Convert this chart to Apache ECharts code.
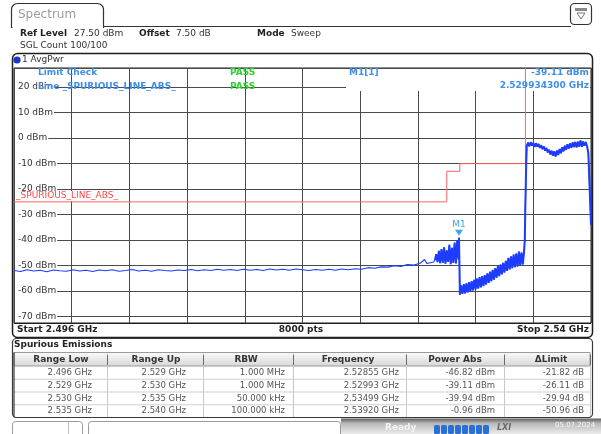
<!DOCTYPE html>
<html><head><meta charset="utf-8">
<script src="https://cdn.jsdelivr.net/npm/echarts@6/dist/echarts.min.js"></script>
<style>html,body{margin:0;padding:0;background:#fff}#c{width:601px;height:434px}</style>
</head><body><div id="c"></div>
<script>
// ---------------- data ----------------
const sweepStartGHz = 2.496;
const sweepStopGHz = 2.54;
const sweepPoints = 8000;
const refLevelDbm = 27.5;
const bottomLevelDbm = -72.5;

// trace: [frequency GHz, level dBm]
const baselineSegment = [
  [2.4960,-51.9],[2.4965,-52.3],[2.4970,-51.6],[2.4975,-52.1],[2.4980,-51.8],[2.4985,-52.4],
  [2.4990,-51.7],[2.4995,-52.0],[2.5000,-52.2],[2.5005,-51.6],[2.5010,-52.1],[2.5015,-51.8],
  [2.5020,-52.3],[2.5025,-51.7],[2.5030,-52.0],[2.5035,-51.6],[2.5040,-52.2],[2.5045,-51.9],
  [2.5050,-51.5],[2.5055,-52.1],[2.5060,-51.8],[2.5065,-52.2],[2.5070,-51.6],[2.5075,-51.9],
  [2.5080,-52.1],[2.5085,-51.7],[2.5090,-51.9],[2.5095,-51.5],[2.5100,-52.0],[2.5105,-51.6],
  [2.5110,-51.9],[2.5115,-51.4],[2.5120,-51.8],[2.5125,-51.5],[2.5130,-51.9],[2.5135,-51.4],
  [2.5140,-51.8],[2.5145,-51.5],[2.5150,-51.9],[2.5155,-51.3],[2.5160,-51.7],[2.5165,-51.4],
  [2.5170,-51.8],[2.5175,-51.3],[2.5180,-51.6],[2.5185,-51.9],[2.5190,-51.5],[2.5195,-51.8],
  [2.5200,-51.4],[2.5205,-51.8],[2.5210,-51.3],[2.5215,-51.6],[2.5220,-51.2],[2.5225,-51.4],
  [2.5230,-50.8],[2.5235,-51.0],[2.5240,-50.5],[2.5245,-50.6],[2.5250,-50.0],[2.5255,-50.3],
  [2.5260,-49.6],[2.5265,-49.8],[2.5270,-49.0],[2.5273,-47.6],[2.5275,-49.2],[2.5280,-48.6]
];
const burstSegment = [
  [2.5281,-47.8],[2.5282,-45.5],[2.5283,-48.6],[2.5284,-44.2],[2.5285,-49.0],[2.5286,-43.5],
  [2.5287,-48.8],[2.5288,-42.8],[2.5289,-49.2],[2.5290,-44.0],[2.5291,-48.5],[2.5292,-41.8],
  [2.5293,-49.4],[2.5294,-43.0],[2.5295,-48.9],[2.5296,-41.0],[2.5297,-49.1],[2.5298,-40.3],
  [2.5299,-47.5],[2.5299343,-39.11],[2.52996,-47.0]
];
const bandSegment = [
  [2.5300,-61.4],[2.5301,-57.8],[2.5302,-61.1],[2.5303,-57.3],[2.5304,-60.9],[2.5305,-57.0],
  [2.5306,-60.5],[2.5307,-56.5],[2.5308,-60.1],[2.5309,-56.1],[2.5310,-59.7],[2.5311,-55.6],
  [2.5312,-59.3],[2.5313,-55.1],[2.5314,-58.9],[2.5315,-54.5],[2.5316,-58.5],[2.5317,-54.1],
  [2.5318,-58.0],[2.5319,-53.7],[2.5320,-57.4],[2.5321,-53.0],[2.5322,-56.8],[2.5323,-52.4],
  [2.5324,-56.1],[2.5325,-51.7],[2.5326,-55.5],[2.5327,-51.0],[2.5328,-54.7],[2.5329,-50.2],
  [2.5330,-54.1],[2.5331,-49.6],[2.5332,-53.4],[2.5333,-48.9],[2.5334,-52.7],[2.5335,-48.1],
  [2.5336,-52.1],[2.5337,-47.0],[2.5338,-51.5],[2.5339,-46.4],[2.5340,-51.0],[2.5341,-45.7],
  [2.5342,-50.6],[2.5343,-45.3],[2.5344,-50.3],[2.5345,-44.5],[2.5346,-49.9],[2.5347,-44.9],
  [2.5348,-49.5],[2.5349,-44.1],[2.53495,-40.0],[2.5350,-25.0],[2.53505,-12.0]
];
const plateauSegment = [
  [2.5351,-3.0],[2.5352,-1.8],[2.5353,-3.2],[2.5354,-1.6],[2.5355,-2.9],[2.5356,-1.9],
  [2.5357,-3.4],[2.5358,-2.0],[2.5359,-3.3],[2.5360,-2.3],[2.5361,-3.8],[2.5362,-2.8],
  [2.5363,-4.3],[2.5364,-3.3],[2.5365,-4.9],[2.5366,-3.9],[2.5367,-5.6],[2.5368,-4.6],
  [2.5369,-6.4],[2.5370,-5.0],[2.5371,-6.9],[2.5372,-5.2],[2.5373,-7.2],[2.5374,-4.9],
  [2.5375,-6.6],[2.5376,-4.3],[2.5377,-5.9],[2.5378,-3.6],[2.5379,-5.2],[2.5380,-3.0],
  [2.5381,-4.6],[2.5382,-2.4],[2.5383,-4.1],[2.5384,-2.1],[2.5385,-3.8],[2.5386,-1.7],
  [2.5387,-3.5],[2.5388,-1.5],[2.5389,-3.6],[2.5390,-1.4],[2.5391,-3.3],[2.5392,-0.96],
  [2.5393,-3.4],[2.5394,-1.3],[2.5395,-3.0],[2.5396,-1.5],[2.5397,-3.2],[2.5398,-6.0],
  [2.5399,-20.0],[2.53995,-27.0],[2.5400,-34.0]
];

// marker
const markerName = 'M1';
const markerFreqGHz = 2.5299343;
const markerDbm = -39.11;

// spurious emissions table
const tableHeaders = ['Range Low','Range Up','RBW','Frequency','Power Abs','\u0394Limit'];
const rangeLowGHz = [2.496, 2.529, 2.530, 2.535];
const rangeUpGHz = [2.529, 2.530, 2.535, 2.540];
const rbwText = ['1.000 MHz','1.000 MHz','50.000 kHz','100.000 kHz'];
const peakFreqGHz = [2.52855, 2.52993, 2.53499, 2.53920];
const powerAbsDbm = [-46.82, -39.11, -39.94, -0.96];
const deltaLimitDb = [-21.82, -26.11, -29.94, -50.96];

// ---------------- build ----------------
const noisyData = burstSegment.concat(bandSegment, plateauSegment);
const traceData = baselineSegment.concat(noisyData);
const limitData = [];
for (let i = 0; i < rangeLowGHz.length; i++) {
  const lim = Math.round((powerAbsDbm[i] - deltaLimitDb[i]) * 100) / 100;
  limitData.push([rangeLowGHz[i], lim], [rangeUpGHz[i], lim]);
}

const FONT = '"DejaVu Sans", Verdana, sans-serif';
function T(x, y, text, o) {
  o = o || {};
  const st = {
    text: text, fill: o.color || '#222',
    font: (o.italic ? 'italic ' : '') + (o.bold ? 'bold ' : '') + (o.size || 9) + 'px ' + FONT,
    align: o.align || 'left', textAlign: o.align || 'left',
    verticalAlign: 'middle', textVerticalAlign: 'middle'
  };
  if (o.bg) { st.backgroundColor = o.bg; st.padding = o.pad || [0, 1]; }
  return { type: 'text', x: x, y: y, z: o.z || 20, silent: true, style: st };
}
function R(x, y, w, h, o) {
  o = o || {};
  return { type: 'rect', z: o.z || 15, silent: true,
    shape: { x: x, y: y, width: w, height: h, r: o.r || 0 },
    style: { fill: o.fill || 'none', stroke: o.stroke || null, lineWidth: o.lw || 1 } };
}
function L(x1, y1, x2, y2, color, lw, z) {
  return { type: 'line', z: z || 16, silent: true,
    shape: { x1: x1, y1: y1, x2: x2, y2: y2 },
    style: { stroke: color, lineWidth: lw || 1 } };
}

const g = [];
// top tab
g.push(R(11.5, 3.5, 92, 24, { r: [6, 6, 0, 0], fill: '#fff', stroke: '#333', lw: 1.2, z: 10 }));
g.push(R(12.5, 25, 90.5, 4, { fill: '#fff', z: 11 }));
g.push(L(103.5, 26.5, 571, 26.5, '#333', 1.2, 12));
g.push(T(18, 15, 'Spectrum', { color: '#9c9c9c', size: 12 }));
// icon box
g.push(R(570.5, 3.5, 21, 21, { r: 4, fill: '#fff', stroke: '#333', lw: 1.2 }));
g.push(R(575, 8, 12, 3, { fill: '#8a8a8a' }));
g.push({ type: 'polygon', z: 16, silent: true, shape: { points: [[577, 13], [585, 13], [581, 19]] }, style: { fill: '#fff', stroke: '#777', lineWidth: 1 } });
// info lines
g.push(T(20, 34, 'Ref Level', { bold: true }));
g.push(T(74, 34, refLevelDbm.toFixed(2) + ' dBm', { color: '#333' }));
g.push(T(139, 34, 'Offset', { bold: true }));
g.push(T(176, 34, '7.50 dB', { color: '#333' }));
g.push(T(257, 34, 'Mode', { bold: true }));
g.push(T(291, 34, 'Sweep', { color: '#333' }));
g.push(T(20, 46, 'SGL Count 100/100', { color: '#333' }));

// diagram container
g.push(R(12.5, 53.5, 580, 284, { r: 5, stroke: '#1e1e1e', lw: 1.5, z: 30 }));
g.push({ type: 'circle', z: 20, silent: true, shape: { cx: 17, cy: 60, r: 3.6 }, style: { fill: '#1a35c8' } });
g.push(T(22, 60, '1 AvgPwr', { color: '#333' }));
// white box behind marker info
g.push(R(346, 69, 244, 22, { fill: '#fff', z: 1 }));
const infoBlue = '#3f8fe9';
g.push(T(38, 73, 'Limit Check', { bold: true, color: infoBlue }));
g.push(T(230, 73, 'PASS', { bold: true, color: '#31cf31' }));
g.push(T(38, 87, 'Line _SPURIOUS_LINE_ABS_', { bold: true, color: infoBlue }));
g.push(T(230, 87, 'PASS', { bold: true, color: '#31cf31' }));
g.push(T(349, 73, markerName + '[1]', { bold: true, color: infoBlue }));
g.push(T(589, 73, markerDbm.toFixed(2) + ' dBm', { bold: true, color: infoBlue, align: 'right' }));
g.push(T(589, 86, markerFreqGHz.toFixed(9) + ' GHz', { bold: true, color: infoBlue, align: 'right' }));
// limit line label
g.push(T(15, 196, '_SPURIOUS_LINE_ABS_', { color: '#ff4848', bg: '#fff', pad: [1, 1, 0, 1], z: 25 }));
// bottom of diagram
g.push(L(14, 323.5, 591, 323.5, '#1e1e1e', 1.2, 30));
g.push(T(17, 330, 'Start ' + sweepStartGHz + ' GHz', { bold: true }));
g.push(T(301, 330, sweepPoints + ' pts', { bold: true, align: 'center' }));
g.push(T(589, 330, 'Stop ' + sweepStopGHz + ' GHz', { bold: true, align: 'right' }));

// table
g.push(R(12.5, 338.5, 580, 79, { r: 4, stroke: '#3a3a3a', lw: 1.2, z: 30 }));
g.push(T(14, 345, 'Spurious Emissions', { bold: true }));
const colEdges = [14, 107, 203, 293, 406, 504, 590];
const colCenters = [61, 156, 246, 348, 455, 551];
const colRight = [92, 186, 285, 399, 495, 584];
const headTop = 352.5, headH = 13.5, rowH = 12.75;
g.push({ type: 'rect', z: 14, silent: true, shape: { x: 14, y: headTop, width: 576, height: headH },
  style: { fill: { type: 'linear', x: 0, y: 0, x2: 0, y2: 1, colorStops: [{ offset: 0, color: '#fbfbfb' }, { offset: 1, color: '#d6d6d6' }] }, stroke: '#9a9a9a', lineWidth: 1 } });
for (let i = 1; i < colEdges.length; i++) {
  g.push(L(colEdges[i] + 0.5, headTop + 2, colEdges[i] + 0.5, headTop + headH - 1, '#6a6a6a', 1));
  g.push(L(colEdges[i] + 0.5, headTop + headH, colEdges[i] + 0.5, headTop + headH + 4 * rowH, '#c8c8c8', 1));
}
for (let i = 0; i < tableHeaders.length; i++) {
  g.push(T(colCenters[i], headTop + headH / 2 + 0.5, tableHeaders[i], { bold: true, align: 'center', color: '#333' }));
}
const rows = [];
for (let r = 0; r < rangeLowGHz.length; r++) {
  rows.push([
    rangeLowGHz[r].toFixed(3) + ' GHz',
    rangeUpGHz[r].toFixed(3) + ' GHz',
    rbwText[r],
    peakFreqGHz[r].toFixed(5) + ' GHz',
    powerAbsDbm[r].toFixed(2) + ' dBm',
    deltaLimitDb[r].toFixed(2) + ' dB'
  ]);
}
rows.forEach(function (row, r) {
  const y0 = headTop + headH + r * rowH;
  g.push(L(14, y0 + rowH + 0.5, 590, y0 + rowH + 0.5, '#cfcfcf', 1));
  row.forEach(function (cell, c) {
    g.push(T(colRight[c], y0 + rowH / 2 + 0.5, cell, { align: 'right', color: '#555', size: 8.5 }));
  });
});
g.push(L(14, 352.5, 14, 417, '#3a3a3a', 1.2, 30));

// status bar
g.push(R(12.5, 421.5, 70, 16, { r: [3, 3, 0, 0], fill: '#fff', stroke: '#9a9a9a' }));
g.push(L(68.5, 422, 68.5, 434, '#c0c0c0', 1));
g.push(R(88.5, 421.5, 252, 16, { r: [3, 3, 0, 0], fill: '#fff', stroke: '#9a9a9a' }));
g.push({ type: 'rect', z: 14, silent: true, shape: { x: 341, y: 418.5, width: 260, height: 16 },
  style: { fill: { type: 'linear', x: 0, y: 0, x2: 0, y2: 1, colorStops: [{ offset: 0, color: '#5e5e5e' }, { offset: 0.3, color: '#b8b8b8' }, { offset: 1, color: '#efefef' }] } } });
g.push(T(385, 428, 'Ready', { bold: true, color: '#f4f4f4' }));
for (let i = 0; i < 8; i++) {
  g.push(R(434 + i * 7, 425, 6, 9, { r: 1.5, fill: '#2a6fd6' }));
}
g.push(T(497, 428, 'LXI', { bold: true, italic: true, color: '#6a6a6a', size: 8 }));
g.push(T(555, 425, '05.07.2024', { color: '#f6f6f6', size: 7 }));

const chart = echarts.init(document.getElementById('c'), null, { renderer: 'canvas' });
chart.setOption({
  animation: false,
  backgroundColor: '#fff',
  grid: { left: 14, top: 68, width: 577, height: 255, show: true, borderColor: '#1e1e1e', borderWidth: 1, backgroundColor: 'transparent', outerBoundsMode: 'none' },
  xAxis: {
    type: 'value', min: sweepStartGHz, max: sweepStopGHz, interval: 0.0044,
    axisLabel: { show: false }, axisTick: { show: false }, axisLine: { show: false },
    splitLine: { show: true, lineStyle: { color: '#4a4a4a', width: 1 } }
  },
  yAxis: [{
    type: 'value', position: 'left', min: bottomLevelDbm, max: refLevelDbm, splitNumber: 10,
    axisLabel: { show: false }, axisTick: { show: false }, axisLine: { show: false },
    splitLine: { show: true, lineStyle: { color: '#4a4a4a', width: 1 } }
  }, {
    type: 'value', position: 'left', offset: 0, min: bottomLevelDbm, max: refLevelDbm, splitNumber: 10, z: 5,
    axisTick: { show: false }, axisLine: { show: false }, splitLine: { show: false },
    axisLabel: { inside: true, margin: 1, formatter: '{value} dBm', showMinLabel: false, showMaxLabel: false,
      color: '#333', fontSize: 9, fontFamily: 'DejaVu Sans', backgroundColor: '#fff', padding: [0, 1, 0, 3] }
  }],
  series: [{
    type: 'line', name: 'limit', data: limitData, symbol: 'none', silent: true, z: 3,
    lineStyle: { color: '#ff6262', width: 1 }
  }, {
    type: 'line', name: 'trace', data: traceData, symbol: 'none', silent: true, z: 6,
    lineStyle: { color: '#1d3cff', width: 1.1 },
    markPoint: {
      silent: true, symbol: 'triangle', symbolSize: [8, 6], symbolRotate: 180, symbolOffset: [0, -5],
      itemStyle: { color: '#3aa6e6' },
      label: { show: true, position: 'top', distance: 1, formatter: markerName, color: '#3aa6e6', fontSize: 9, fontFamily: 'DejaVu Sans' },
      data: [{ coord: [markerFreqGHz, markerDbm] }]
    }
  }, {
    type: 'line', name: 'traceNoise', data: noisyData, symbol: 'none', silent: true, z: 6,
    lineStyle: { color: '#1d3cff', width: 2 }
  }],
  graphic: g
});
</script>
</body></html>
